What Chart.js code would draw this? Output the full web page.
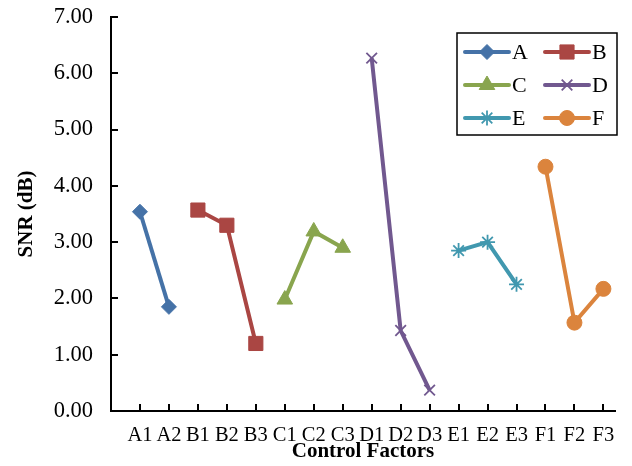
<!DOCTYPE html>
<html>
<head>
<meta charset="utf-8">
<script src="https://cdn.jsdelivr.net/npm/chart.js@4/dist/chart.umd.min.js"></script>
<style>
  body { margin: 0; background: #fff; }
  #wrap { width: 632px; height: 466px; }
</style>
</head>
<body>
<div id="wrap"><canvas id="snrChart" width="632" height="466"></canvas></div>
<script>
// x categories (levels of each control factor)
const categories = ["A1", "A2", "B1", "B2", "B3", "C1", "C2", "C3", "D1", "D2", "D3", "E1", "E2", "E3", "F1", "F2", "F3"];
const yTicks = [0, 1, 2, 3, 4, 5, 6, 7];

// SNR per factor level
const factorNames = ["A", "B", "C", "D", "E", "F"];
const valuesA = [3.54, 1.85];
const valuesB = [3.57, 3.30, 1.20];
const valuesC = [1.98, 3.19, 2.90];
const valuesD = [6.27, 1.43, 0.37];
const valuesE = [2.85, 3.00, 2.25];
const valuesF = [4.34, 1.57, 2.17];

const colors = ["#4572A7", "#AA4643", "#89A54E", "#71588F", "#4198AF", "#DB843D"];
const styles = ["rectRot", "rect", "triangle", "crossRot", "star", "circle"];
const radii = [7.5, 10, 9, 7.5, 7.5, 7.5];

const FONT = "'Liberation Serif', 'Times New Roman', serif";

const allValues = [valuesA, valuesB, valuesC, valuesD, valuesE, valuesF];

// each series only sits on its own levels, x = position in the category list
const datasets = factorNames.map((name, i) => ({
  label: name,
  data: allValues[i].map((v, k) => ({ x: categories.indexOf(name + (k + 1)) + 1, y: v })),
  borderColor: colors[i],
  backgroundColor: colors[i],
  borderWidth: 4,
  pointStyle: styles[i],
  pointRadius: radii[i],
  pointBackgroundColor: colors[i],
  pointBorderColor: colors[i],
  pointBorderWidth: (styles[i] === "crossRot" || styles[i] === "star") ? 1.8 : 1,
  tension: 0
}));

// tick marks pointing into the plot, like the original
const innerTicks = {
  id: "innerTicks",
  afterDraw(chart) {
    const ctx = chart.ctx;
    const area = chart.chartArea;
    const sx = chart.scales.x, sy = chart.scales.y;
    ctx.save();
    ctx.fillStyle = "#000000";
    for (let i = 0; i < categories.length; i++) {
      const px = Math.round(sx.getPixelForValue(i + 1));
      ctx.fillRect(px - 1, area.bottom - 7, 2, 7);
    }
    for (const v of yTicks) {
      const py = Math.round(sy.getPixelForValue(v));
      ctx.fillRect(area.left, py - 1, 7, 2);
    }
    ctx.restore();
  }
};

// boxed legend, two columns, inside the plot
const boxLegend = {
  id: "boxLegend",
  afterDraw(chart) {
    const { ctx, chartArea } = chart;
    const left = chartArea.left + 346;
    const top = chartArea.top + 16;
    const w = 160, h = 102;
    ctx.save();
    ctx.fillStyle = "#fff";
    ctx.fillRect(left, top, w, h);
    ctx.strokeStyle = "#000";
    ctx.lineWidth = 1.5;
    ctx.strokeRect(left, top, w, h);

    chart.data.datasets.forEach((ds, i) => {
      const col = i % 2, row = Math.floor(i / 2);
      const x0 = left + 8 + col * 80;
      const x1 = x0 + 44;
      const y = top + 19 + row * 33;
      ctx.strokeStyle = ds.borderColor;
      ctx.lineWidth = ds.borderWidth;
      ctx.lineCap = "round";
      ctx.beginPath();
      ctx.moveTo(x0, y);
      ctx.lineTo(x1, y);
      ctx.stroke();
      ctx.lineCap = "butt";
      ctx.fillStyle = ds.pointBackgroundColor;
      ctx.strokeStyle = ds.pointBorderColor;
      ctx.lineWidth = ds.pointBorderWidth;
      Chart.helpers.drawPoint(ctx, {
        pointStyle: ds.pointStyle,
        radius: ds.pointRadius,
        borderWidth: ds.pointBorderWidth,
        rotation: 0
      }, (x0 + x1) / 2, y);
      ctx.fillStyle = "#000";
      ctx.font = "22px " + FONT;
      ctx.textBaseline = "middle";
      ctx.textAlign = "left";
      ctx.fillText(ds.label, x1 + 3, y + 1);
    });
    ctx.restore();
  }
};

new Chart(document.getElementById("snrChart"), {
  type: "line",
  data: { datasets },
  plugins: [innerTicks, boxLegend],
  options: {
    responsive: false,
    animation: false,
    spanGaps: false,
    layout: { padding: { top: 17, right: 17, left: 0, bottom: 0 } },
    plugins: {
      legend: { display: false },
      tooltip: { enabled: false }
    },
    scales: {
      x: {
        type: "linear",
        min: 0,
        max: 17.4,
        afterBuildTicks: (scale) => {
          scale.ticks = categories.map((c, i) => ({ value: i + 1 }));
        },
        afterFit: (scale) => {
          scale.height = 55;
          scale.paddingLeft = 0;
          scale.paddingRight = 0;
        },
        grid: { display: false, drawTicks: false },
        border: { display: true, color: "#000", width: 2 },
        ticks: {
          autoSkip: false,
          maxRotation: 0,
          padding: 12,
          color: "#000",
          font: { family: FONT, size: 20.5 },
          callback: (v) => categories[v - 1] || ""
        },
        title: {
          display: true,
          text: "Control Factors",
          color: "#000",
          font: { family: FONT, size: 21, weight: "bold" },
          padding: { top: 0, bottom: 2 }
        }
      },
      y: {
        min: 0,
        max: 7,
        afterBuildTicks: (scale) => {
          scale.ticks = yTicks.map(v => ({ value: v }));
        },
        afterFit: (scale) => {
          scale.width = 111;
          scale.paddingTop = 0;
          scale.paddingBottom = 0;
        },
        grid: { display: false, drawTicks: false },
        border: { display: true, color: "#000", width: 2 },
        ticks: {
          padding: 18,
          color: "#000",
          font: { family: FONT, size: 22.5 },
          callback: (v) => Number(v).toFixed(2)
        },
        title: {
          display: true,
          text: "SNR (dB)",
          color: "#000",
          font: { family: FONT, size: 21, weight: "bold" },
          padding: { top: 14, bottom: 0 }
        }
      }
    }
  }
});
</script>
</body>
</html>
